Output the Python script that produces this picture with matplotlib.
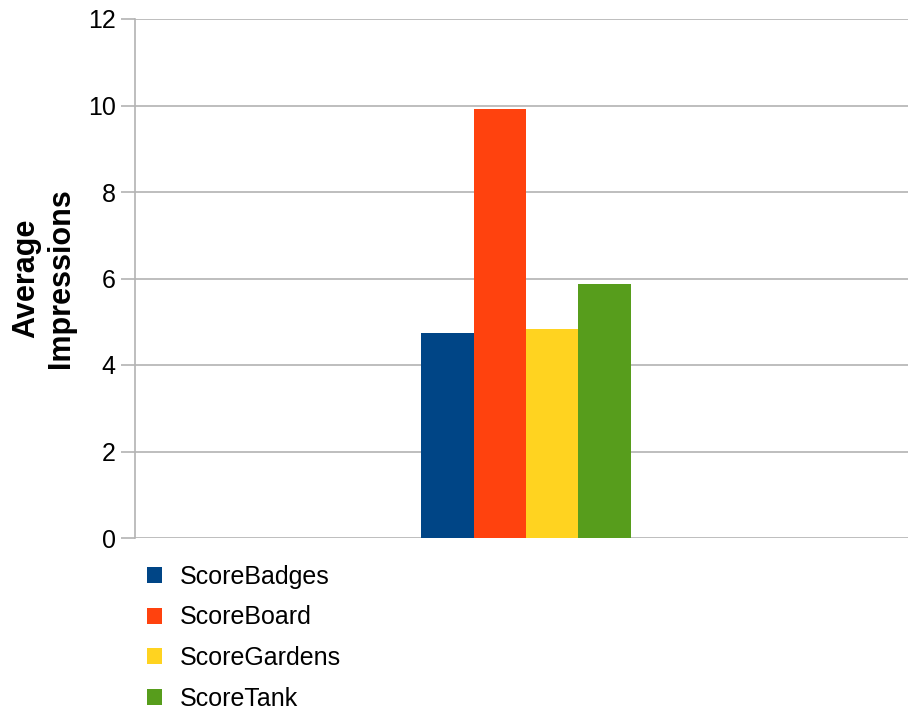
import matplotlib
matplotlib.use("Agg")
import matplotlib.pyplot as plt
import numpy as np

# series names and their average impressions
series = ["ScoreBadges", "ScoreBoard", "ScoreGardens", "ScoreTank"]
values = [4.74, 9.93, 4.83, 5.88]
colors = ["#004586", "#ff420e", "#ffd320", "#579d1c"]
yticks = [0, 2, 4, 6, 8, 10, 12]

plt.rcParams['font.family'] = ['Liberation Sans', 'DejaVu Sans']

W, H = 908, 712
fig = plt.figure(figsize=(W / 100, H / 100), dpi=100)
# axes box in pixels: left 135, right 908, top 19, bottom 538
ax = fig.add_axes([135 / W, 1 - 538 / H, (908 - 135) / W, (538 - 19) / H])

bw = 1.0
pos = (np.arange(len(series)) - 1.5) * bw
for p, v, c, name in zip(pos, values, colors, series):
    ax.bar(p, v, width=bw, color=c, label=name, zorder=3)

# group centred at pixel 526, bar width ~52.3 px
px = 52.3
ax.set_xlim((135 - 526) / px, (908 - 526) / px)
ax.set_ylim(0, 12)
ax.set_yticks(yticks)
ax.set_xticks([])
ax.yaxis.grid(True, color="#b3b3b3", linewidth=1.2, zorder=0)

for s in ["top", "right", "bottom"]:
    ax.spines[s].set_visible(False)
ax.spines["left"].set_color("#b3b3b3")
ax.spines["left"].set_linewidth(1.2)
ax.tick_params(axis="y", length=10, width=1.2, color="#b3b3b3",
               labelsize=18, pad=4, labelcolor="#000000")

fig.text(44 / W, 1 - 278 / H, "Average\nImpressions", rotation=90,
         ha="center", va="center", fontsize=22, fontweight="bold",
         linespacing=1.2)

# legend below the plot
leg = fig.legend(loc="upper left", bbox_to_anchor=(147 / W, 1 - 565 / H),
                 frameon=False, fontsize=18, handlelength=0.6,
                 handleheight=0.6, handletextpad=0.7, labelspacing=0.66,
                 borderpad=0, borderaxespad=0)

fig.savefig("out.png", dpi=100)
